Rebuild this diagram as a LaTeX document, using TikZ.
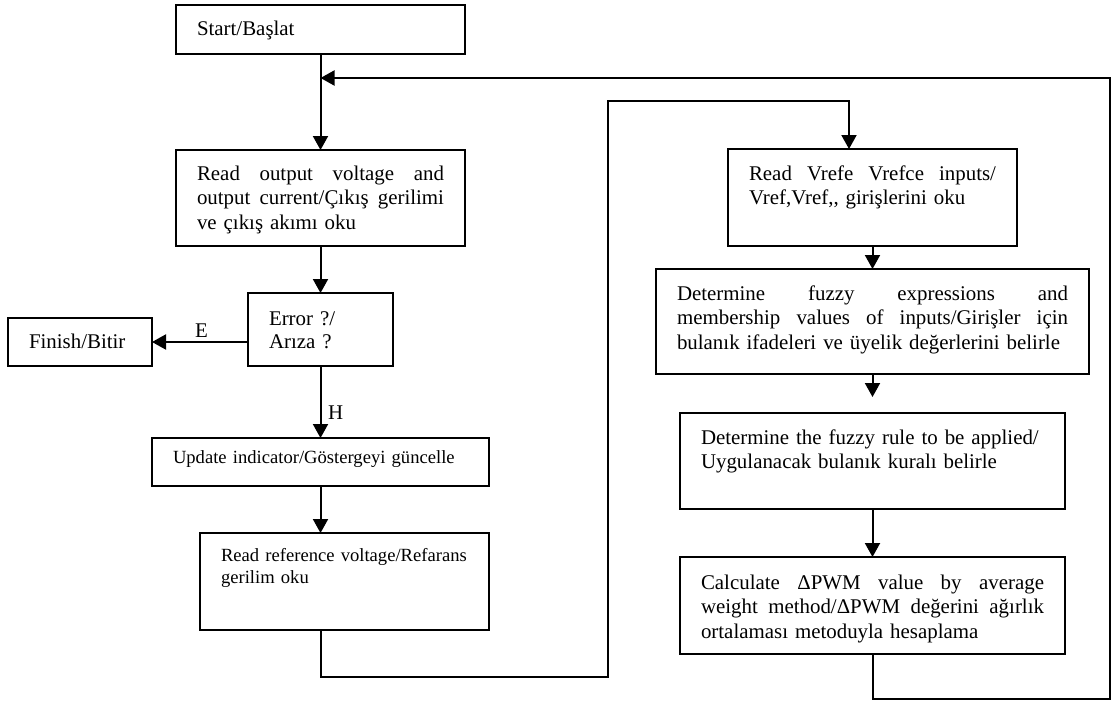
\documentclass[tikz,border=0pt]{standalone}
\usepackage{fontspec}
\setmainfont{Liberation Serif}
\usetikzlibrary{arrows.meta}
\newcommand\jline[2]{\makebox[#1][s]{\spaceskip=0pt\xspaceskip=0pt\relax #2}}
\tikzset{
  box/.style={draw, line width=1.8pt, anchor=north west, inner xsep=21pt, inner ysep=0pt,
    outer sep=0pt, align=left, font=\fontsize{20.9}{24.5}\selectfont},
  small/.style={font=\fontsize{18.6}{22.3}\selectfont},
  lbl/.style={anchor=base west, inner sep=0pt, font=\fontsize{20.9}{24.5}\selectfont},
  arr/.style={line width=2pt, -{Triangle[width=15pt,length=14pt]}},
}
\begin{document}
\begin{tikzpicture}[x=1pt,y=-1pt]
\useasboundingbox (0,0) rectangle (1112,701);
% left column
\node[box, text width=247pt, text height=31pt, text depth=18pt] (start) at (176,5) {\mbox{Start/Başlat}};
\node[box, text width=247pt, text height=30pt, text depth=66pt] (readout) at (176,150)
  {\jline{247pt}{Read output voltage and}\\\jline{247pt}{output current/Çıkış gerilimi}\\\mbox{ve çıkış akımı oku}};
\node[box, text width=103pt, text height=32pt, text depth=41pt] (error) at (248,293)
  {\mbox{Error ?/}\\[-1.2pt]\mbox{Arıza ?}};
\node[box, text width=102pt, text height=30pt, text depth=18pt] (finish) at (8,318) {\mbox{Finish/Bitir}};
\node[box, small, text width=295pt, text height=25pt, text depth=23pt] (update) at (152,438)
  {\mbox{Update indicator/Göstergeyi güncelle}};
\node[box, small, text width=247pt, text height=28pt, text depth=69pt] (readref) at (200,533)
  {\mbox{Read reference voltage/Refarans}\\\mbox{gerilim oku}};
% right column
\node[box, text width=247pt, text height=31pt, text depth=66pt] (vref) at (728,149)
  {\jline{247pt}{Read Vrefe Vrefce inputs/}\\\mbox{Vref,Vref,{},{} girişlerini oku}};
\node[box, text width=391pt, text height=31pt, text depth=74pt] (fuzzy) at (656,269)
  {\jline{391pt}{Determine fuzzy expressions and}\\\jline{391pt}{membership values of inputs/Girişler için}\\\mbox{bulanık ifadeleri ve üyelik değerlerini belirle}};
\node[box, text width=343pt, text height=31pt, text depth=65pt] (rule) at (680,413)
  {\mbox{Determine the fuzzy rule to be applied/}\\\mbox{Uygulanacak bulanık kuralı belirle}};
\node[box, text width=343pt, text height=32pt, text depth=65pt] (calc) at (680,557)
  {\jline{343pt}{Calculate ΔPWM value by average}\\\jline{343pt}{weight method/ΔPWM değerini ağırlık}\\\mbox{ortalaması metoduyla hesaplama}};
% labels
\node[lbl] (E) at (195,337.3) {E};
\node[lbl] (H) at (328,419) {H};
% route points
\coordinate (rb) at (1110,699);
\coordinate (lb) at (608,677);
\coordinate (lt) at (608,101);
\coordinate (jn) at (320.5,78);
% connectors
\draw[arr] (start.south) -- (readout.north);
\draw[arr] (readout.south) -- (error.north);
\draw[arr] (error.west |- finish.east) -- (finish.east);
\draw[arr] (error.south) -- (update.north);
\draw[arr] (update.south) -- (update.south |- readref.north);
\draw[arr] (update.south |- readref.south) |- (lb) -- (lt) -| ([xshift=-23.5pt]vref.north);
\draw[arr] (vref.south) -- (fuzzy.north);
\draw[arr] (fuzzy.south) -- ([yshift=16pt]rule.north);
\draw[arr] (rule.south) -- (calc.north);
\draw[arr] (calc.south) |- (rb) |- (jn);
\end{tikzpicture}
\end{document}
